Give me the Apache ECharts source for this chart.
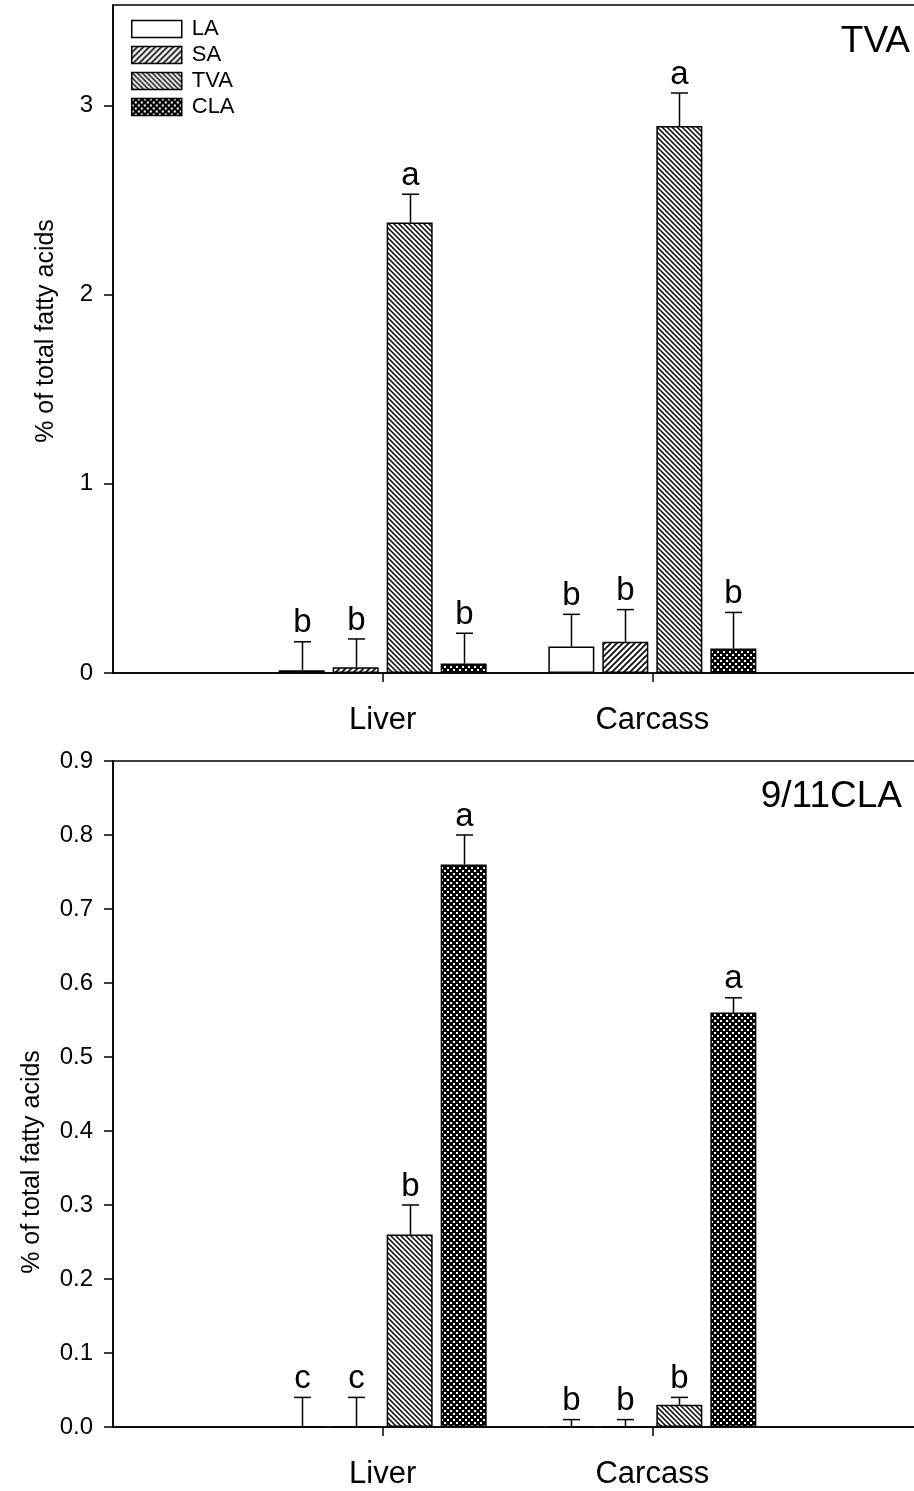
<!DOCTYPE html>
<html>
<head>
<meta charset="utf-8">
<script src="https://cdn.jsdelivr.net/npm/echarts@6/dist/echarts.min.js"></script>
<style>
html,body{margin:0;padding:0;background:#fff;}
#chart{width:914px;height:1491px;}
</style>
</head>
<body>
<div id="chart"></div>
<script>
// ---- data ----
const groups = ['Liver', 'Carcass'];
const groupPos = [1, 2];
const seriesNames = ['LA', 'SA', 'TVA', 'CLA'];

// top panel (TVA)
const tvaLA = [0.015, 0.14];
const tvaSA = [0.03, 0.165];
const tvaTVA = [2.38, 2.89];
const tvaCLA = [0.05, 0.13];
const tvaErrLA = [0.15, 0.17];
const tvaErrSA = [0.15, 0.17];
const tvaErrTVA = [0.15, 0.175];
const tvaErrCLA = [0.16, 0.19];
const tvaLetLA = ['b', 'b'];
const tvaLetSA = ['b', 'b'];
const tvaLetTVA = ['a', 'a'];
const tvaLetCLA = ['b', 'b'];
const tvaTicks = [0, 1, 2, 3];

// bottom panel (9/11 CLA)
const claLA = [0, 0];
const claSA = [0, 0];
const claTVA = [0.26, 0.03];
const claCLA = [0.76, 0.56];
const claErrLA = [0.04, 0.01];
const claErrSA = [0.04, 0.01];
const claErrTVA = [0.04, 0.01];
const claErrCLA = [0.04, 0.02];
const claLetLA = ['c', 'b'];
const claLetSA = ['c', 'b'];
const claLetTVA = ['b', 'b'];
const claLetCLA = ['a', 'a'];
const claTicks = [0, 0.1, 0.2, 0.3, 0.4, 0.5, 0.6, 0.7, 0.8, 0.9];

// ---- patterns ----
function pat(kind) {
  const c = document.createElement('canvas');
  const ctx = c.getContext('2d');
  if (kind === 'LA') {
    c.width = 4; c.height = 4;
    ctx.fillStyle = '#fff'; ctx.fillRect(0, 0, 4, 4);
  } else if (kind === 'SA') {
    const s = 6; c.width = s; c.height = s;
    ctx.fillStyle = '#fff'; ctx.fillRect(0, 0, s, s);
    ctx.strokeStyle = '#000'; ctx.lineWidth = 1.6;
    ctx.beginPath();
    ctx.moveTo(-1, s + 1); ctx.lineTo(s + 1, -1);
    ctx.moveTo(-1, 1); ctx.lineTo(1, -1);
    ctx.moveTo(s - 1, s + 1); ctx.lineTo(s + 1, s - 1);
    ctx.stroke();
  } else if (kind === 'TVA') {
    const s = 5; c.width = s; c.height = s;
    ctx.fillStyle = '#fff'; ctx.fillRect(0, 0, s, s);
    ctx.strokeStyle = '#000'; ctx.lineWidth = 1.5;
    ctx.beginPath();
    ctx.moveTo(-1, -1); ctx.lineTo(s + 1, s + 1);
    ctx.moveTo(s - 1, -1); ctx.lineTo(s + 1, 1);
    ctx.moveTo(-1, s - 1); ctx.lineTo(1, s + 1);
    ctx.stroke();
  } else {
    const s = 6; c.width = s; c.height = s;
    ctx.fillStyle = '#000'; ctx.fillRect(0, 0, s, s);
    ctx.fillStyle = '#fff';
    ctx.fillRect(0, 0, 2, 2);
    ctx.fillRect(3, 3, 2, 2);
  }
  return { image: c, repeat: 'repeat' };
}
const patterns = seriesNames.map(pat);

const FONT = '"Liberation Sans", Arial, Helvetica, sans-serif';
const barW = 46, barGapPx = 8;
const step = barW + barGapPx;

function makeBars(means, xIdx, yIdx) {
  return means.map((vals, k) => ({
    type: 'bar', name: seriesNames[k], xAxisIndex: xIdx, yAxisIndex: yIdx,
    barWidth: barW, barGap: (barGapPx / barW * 100).toFixed(2) + '%',
    itemStyle: { color: patterns[k], borderColor: '#000', borderWidth: 1.5 },
    data: vals.map((v, i) => [groupPos[i], v]),
    z: 2, silent: true
  }));
}

function makeErr(means, errs, letters, xIdx, yIdx) {
  const data = [], lets = [];
  means.forEach((vals, k) => vals.forEach((v, i) => {
    data.push([groupPos[i], v, errs[k][i], k]);
    lets.push(letters[k][i]);
  }));
  return {
    type: 'custom', xAxisIndex: xIdx, yAxisIndex: yIdx, z: 5, silent: true,
    encode: { x: 0, y: 1 },
    data: data,
    renderItem: function (params, api) {
      const x = api.value(0), m = api.value(1), e = api.value(2), k = api.value(3);
      const b = api.coord([x, m]);
      const t = api.coord([x, m + e]);
      const cx = Math.round(b[0] + (k - 1.5) * step) + 0.5;
      return {
        type: 'group', children: [
          { type: 'line', shape: { x1: cx, y1: b[1], x2: cx, y2: t[1] }, style: { stroke: '#000', lineWidth: 1.5 } },
          { type: 'line', shape: { x1: cx - 8.5, y1: t[1], x2: cx + 8.5, y2: t[1] }, style: { stroke: '#000', lineWidth: 1.5 } },
          { type: 'text', x: cx, y: t[1] - 2, style: { text: lets[params.dataIndex], font: '33px ' + FONT, fill: '#000', align: 'center', verticalAlign: 'bottom' } }
        ]
      };
    }
  };
}

function xAxisCfg(gridIdx) {
  return {
    type: 'value', gridIndex: gridIdx, min: 0, max: 3, interval: 1,
    splitLine: { show: false },
    axisLine: { lineStyle: { color: '#000', width: 1.5 } },
    axisTick: { customValues: groupPos, length: 9, lineStyle: { color: '#000', width: 1.5 } },
    axisLabel: {
      customValues: groupPos, margin: 32, color: '#000', fontSize: 31, fontFamily: FONT,
      formatter: v => groups[groupPos.indexOf(v)] || ''
    }
  };
}
function yAxisCfg(gridIdx, max, ticks, interval, dec) {
  return {
    type: 'value', gridIndex: gridIdx, min: 0, max: max, interval: interval,
    splitLine: { show: false },
    axisLine: { show: true, lineStyle: { color: '#000', width: 1.5 } },
    axisTick: { show: true, customValues: ticks, length: 9, lineStyle: { color: '#000', width: 1.5 } },
    axisLabel: {
      customValues: ticks, margin: 20, color: '#000', fontSize: 24, fontFamily: FONT,
      formatter: v => Number(v).toFixed(dec)
    }
  };
}

const tvaMeans = [tvaLA, tvaSA, tvaTVA, tvaCLA];
const tvaErrs = [tvaErrLA, tvaErrSA, tvaErrTVA, tvaErrCLA];
const tvaLets = [tvaLetLA, tvaLetSA, tvaLetTVA, tvaLetCLA];
const claMeans = [claLA, claSA, claTVA, claCLA];
const claErrs = [claErrLA, claErrSA, claErrTVA, claErrCLA];
const claLets = [claLetLA, claLetSA, claLetTVA, claLetCLA];

const chart = echarts.init(document.getElementById('chart'), null, { renderer: 'canvas' });
chart.setOption({
  animation: false,
  backgroundColor: '#fff',
  grid: [
    { left: 113, top: 5, width: 809, height: 668, show: true, borderColor: '#000', borderWidth: 1.5, containLabel: false, outerBoundsMode: 'none' },
    { left: 113, top: 761, width: 809, height: 666, show: true, borderColor: '#000', borderWidth: 1.5, containLabel: false, outerBoundsMode: 'none' }
  ],
  xAxis: [xAxisCfg(0), xAxisCfg(1)],
  yAxis: [yAxisCfg(0, 3.53, tvaTicks, 1, 0), yAxisCfg(1, 0.9, claTicks, 0.1, 1)],
  legend: {
    data: seriesNames, orient: 'vertical', left: 131, top: 18, padding: 0,
    itemWidth: 50, itemHeight: 17, itemGap: 4, icon: 'rect', selectedMode: false,
    itemStyle: { borderColor: '#000', borderWidth: 1.5 },
    textStyle: { fontSize: 22, fontFamily: FONT, color: '#000', padding: [0, 0, 0, 5] }
  },
  graphic: [
    { type: 'text', x: 910, y: 42, style: { text: 'TVA', font: '37px ' + FONT, fill: '#000', align: 'right', verticalAlign: 'middle' } },
    { type: 'text', x: 902, y: 797, style: { text: '9/11CLA', font: '37px ' + FONT, fill: '#000', align: 'right', verticalAlign: 'middle' } },
    { type: 'text', x: 46, y: 331, rotation: Math.PI / 2, style: { text: '% of total fatty acids', font: '25px ' + FONT, fill: '#000', align: 'center', verticalAlign: 'middle' } },
    { type: 'text', x: 32, y: 1162, rotation: Math.PI / 2, style: { text: '% of total fatty acids', font: '25px ' + FONT, fill: '#000', align: 'center', verticalAlign: 'middle' } }
  ],
  series: [
    ...makeBars(tvaMeans, 0, 0),
    makeErr(tvaMeans, tvaErrs, tvaLets, 0, 0),
    ...makeBars(claMeans, 1, 1),
    makeErr(claMeans, claErrs, claLets, 1, 1)
  ]
});
</script>
</body>
</html>
